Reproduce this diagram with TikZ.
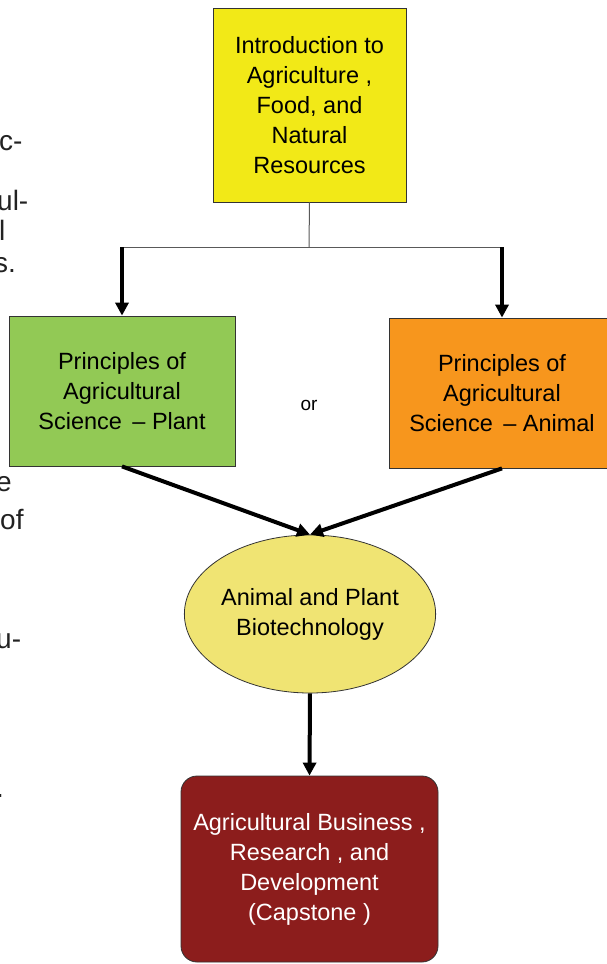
\documentclass[tikz,border=0pt]{standalone}
\usepackage{fontspec}
\setmainfont{Liberation Sans}
\usetikzlibrary{arrows.meta,shapes.geometric}
\definecolor{introY}{HTML}{F2E917}
\definecolor{plantG}{HTML}{92C955}
\definecolor{animalO}{HTML}{F7961D}
\definecolor{bioY}{HTML}{F0E473}
\definecolor{capR}{HTML}{8C1D1C}
\definecolor{frag}{HTML}{222222}
\tikzset{
  box/.style={draw=black!80, line width=0.8pt, inner sep=0pt, align=center,
    font=\fontsize{23.5}{30}\selectfont, text=black},
  thin/.style={draw=black!65, line width=1pt},
  thick/.style={draw=black, line width=4pt, -{Triangle[length=13pt,width=13pt]}},
  fragtxt/.style={anchor=base west, inner sep=0pt, text=frag, font=\fontsize{28}{30}\selectfont},
}
\begin{document}
\begin{tikzpicture}[x=1pt,y=-1pt]
\clip (0,0) rectangle (607,964);
\fill[white] (0,0) rectangle (607,964);
% left text fragments
\node[fragtxt] (f1) at (-1,150) {c-};
\node[fragtxt] (f2) at (-3,210) {ul-};
\node[fragtxt] (f3) at (-1,240) {l};
\node[fragtxt] (f4) at (-6,272) {s.};
\node[fragtxt] (f5) at (-4,491) {e};
\node[fragtxt] (f6) at (0,529) {of};
\node[fragtxt] (f7) at (-4,648) {u-};
\node[fragtxt] (f8) at (-4,797) {.};
% nodes
\node[box, fill=introY, minimum width=193pt, minimum height=194pt] (intro) at (309.5,105)
  {Introduction to\\Agriculture ,\\Food, and\\Natural\\Resources};
\node[box, fill=plantG, minimum width=226pt, minimum height=150pt] (plant) at (122,391)
  {Principles of\\Agricultural\\Science \,– Plant};
\node[box, fill=animalO, minimum width=226pt, minimum height=150pt] (animal) at (502,393)
  {Principles of\\Agricultural\\Science \,– Animal};
\node[font=\fontsize{19}{22}\selectfont, inner sep=0pt] (or) at (309,405) {or};
\node[box, ellipse, fill=bioY, minimum width=245pt, minimum height=158pt] (bio) at (310,614)
  {Animal and Plant\\Biotechnology};
\node[box, fill=capR, text=white, rounded corners=16pt, minimum width=257pt, minimum height=186pt] (cap) at (309.5,869)
  {Agricultural Business ,\\Research , and\\Development\\(Capstone )};
% connectors
\coordinate (j) at (309,247);
\coordinate (jl) at (122,247);
\coordinate (jr) at (502,247);
\draw[thin] (intro.south) -- (j);
\draw[thin] (jl) -- (jr);
\draw[thick] (jl) -- (plant.north);
\draw[thick] (jr) -- (animal.north);
\draw[thick] (plant.south) -- (bio.north);
\draw[thick] (animal.south) -- (bio.north);
\draw[thick] (bio.south) -- (cap.north);
\end{tikzpicture}
\end{document}
